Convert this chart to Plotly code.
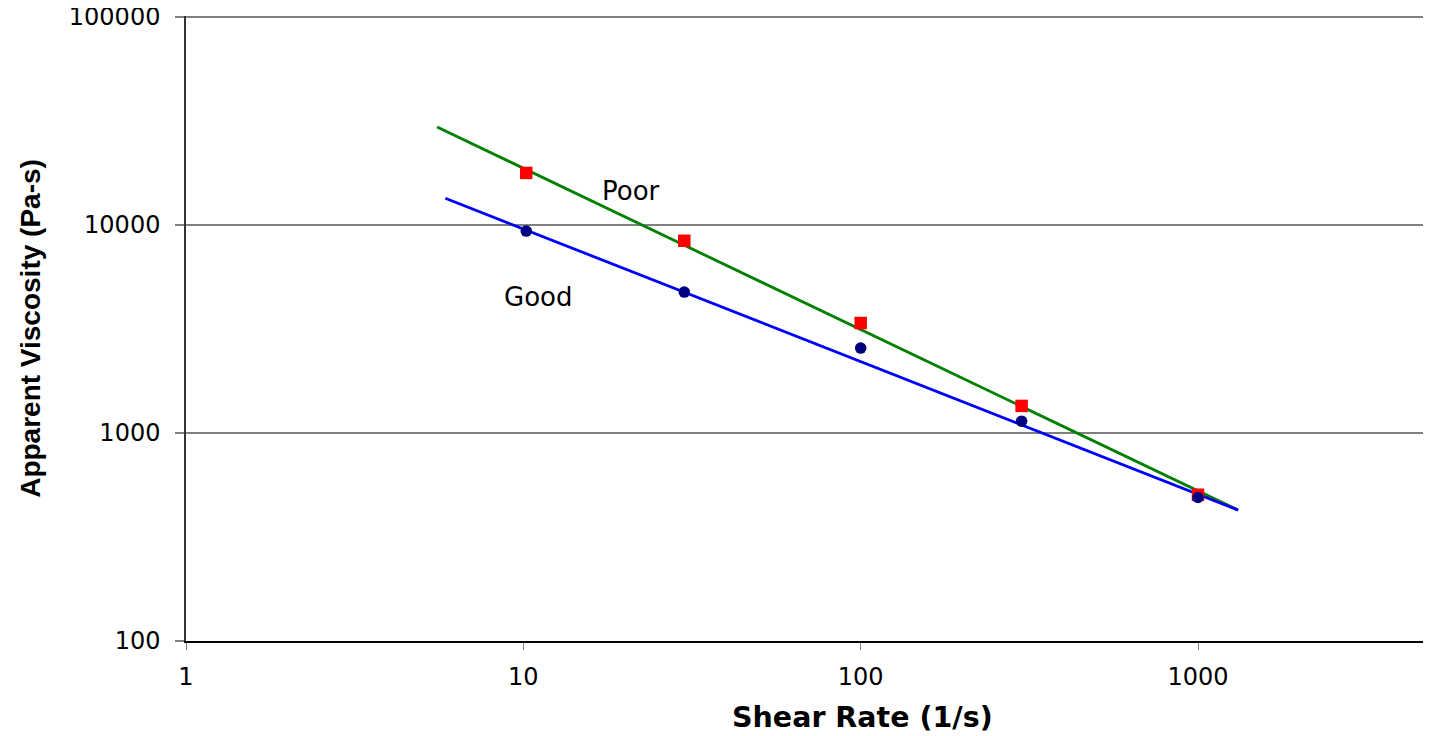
import plotly.graph_objects as go

shear_rate = [10.2, 30, 100, 300, 1000]
poor_visc = [17800, 8400, 3380, 1350, 505]
good_visc = [9350, 4760, 2560, 1140, 490]

poor_fit_x = [5.55, 1315]
poor_fit_y = [29600, 426]
good_fit_x = [5.87, 1315]
good_fit_y = [13450, 426]

x_ticks = [1, 10, 100, 1000]
y_ticks = [100, 1000, 10000, 100000]

fig = go.Figure()
fig.add_trace(go.Scatter(x=poor_fit_x, y=poor_fit_y, mode="lines",
                         line=dict(color="#008000", width=2.8), showlegend=False))
fig.add_trace(go.Scatter(x=good_fit_x, y=good_fit_y, mode="lines",
                         line=dict(color="#0000ff", width=2.8), showlegend=False))
fig.add_trace(go.Scatter(x=shear_rate, y=poor_visc, mode="markers",
                         marker=dict(symbol="square", color="#ff0000", size=12.5), showlegend=False))
fig.add_trace(go.Scatter(x=shear_rate, y=good_visc, mode="markers",
                         marker=dict(symbol="circle", color="#000080", size=11.5), showlegend=False))

fig.add_annotation(x=1.319, y=4.163, xref="x", yref="y", text="Poor", showarrow=False,
                   font=dict(family="DejaVu Sans", size=26, color="black"))
fig.add_annotation(x=1.044, y=3.654, xref="x", yref="y", text="Good", showarrow=False,
                   font=dict(family="DejaVu Sans", size=26, color="black"))
fig.add_annotation(x=0.5465, y=-0.123, xref="paper", yref="paper", yanchor="middle",
                   text="<b>Shear Rate (1/s)</b>", showarrow=False,
                   font=dict(family="DejaVu Sans", size=28.5, color="black"))

fig.update_layout(
    width=1415, height=728,
    margin=dict(l=178, r=0, t=8, b=95, autoexpand=False),
    plot_bgcolor="white", paper_bgcolor="white",
    font=dict(family="DejaVu Sans", size=24, color="black"),
)
fig.update_xaxes(type="log", range=[0, 3.667], automargin=False,
                 tickvals=x_ticks, ticktext=[str(v) for v in x_ticks],
                 showgrid=False, zeroline=False,
                 showline=True, linecolor="black", linewidth=1.5,
                 ticks="outside", ticklen=7, tickcolor="#808080", tickwidth=1.3,
                 ticklabelstandoff=6,
                 tickfont=dict(family="DejaVu Sans", size=24))
fig.update_yaxes(type="log", range=[2, 5.005], automargin=False,
                 tickvals=y_ticks, ticktext=[str(v) for v in y_ticks],
                 showgrid=True, gridcolor="#808080", gridwidth=1.5, zeroline=False,
                 showline=True, linecolor="#333333", linewidth=1.5,
                 ticks="outside", ticklen=9, tickcolor="#808080", tickwidth=1.5,
                 ticklabelstandoff=10, ticklabeloverflow="allow",
                 tickfont=dict(family="DejaVu Sans", size=24),
                 title=dict(text="<b>Apparent Viscosity (Pa-s)</b>", standoff=20,
                            font=dict(family="Liberation Sans, Arial", size=28)))

fig.write_html("out.html")
